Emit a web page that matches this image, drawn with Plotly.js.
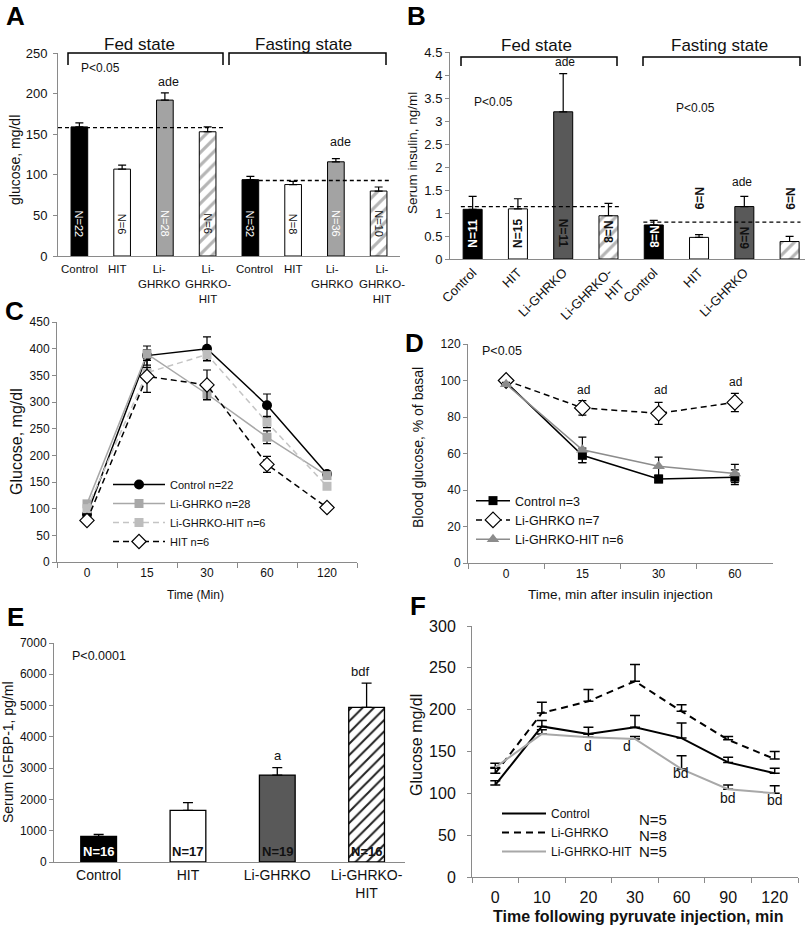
<!DOCTYPE html>
<html>
<head>
<meta charset="utf-8">
<script src="https://cdn.plot.ly/plotly-3.0.1.min.js"></script>
<style>html,body{margin:0;padding:0;background:#fff;}#chart{width:805px;height:926px;}</style>
</head>
<body>
<div id="chart"></div>
<script>
// ---------- DATA ----------
// Panel A: glucose (mg/dl)
const catsA = ['Control', 'HIT', 'Li-<br>GHRKO', 'Li-<br>GHRKO-<br>HIT'];
const glucoseFedA = [159, 107, 192, 153];
const glucoseFedErrA = [5, 5, 9, 6];
const glucoseFastA = [94, 88, 116, 80];
const glucoseFastErrA = [4, 4, 4, 5];
const refLinesA = [158, 93];
const nFedA = ['N=22', 'N=6', 'N=28', 'N=6'];
const nFastA = ['N=32', 'N=8', 'N=36', 'N=10'];

// Panel B: serum insulin (ng/ml)
const catsB = ['Control', 'HIT', 'Li-GHRKO', 'Li-GHRKO-<br>HIT'];
const insulinFedB = [1.08, 1.09, 3.2, 0.94];
const insulinFedErrB = [0.28, 0.22, 0.83, 0.27];
const insulinFastB = [0.74, 0.47, 1.14, 0.38];
const insulinFastErrB = [0.10, 0.06, 0.22, 0.11];
const refLinesB = [1.14, 0.80];
const nFedB = ['N=11', 'N=15', 'N=11', 'N=8'];
const nFastB = ['N=8', 'N=9', 'N=9', 'N=9'];

// Panel C: GTT glucose (mg/dl)
const timesC = ['0', '15', '30', '60', '120'];
const controlC = [89, 387, 400, 294, 165];
const controlErrC = [4, 18, 22, 21, 5];
const koC = [109, 390, 315, 234, 162];
const koErrC = [4, 8, 10, 12, 5];
const kohitC = [100, 355, 389, 262, 142];
const kohitErrC = [4, 10, 12, 10, 5];
const hitC = [78, 348, 332, 183, 102];
const hitErrC = [4, 30, 28, 15, 6];

// Panel D: ITT blood glucose (% of basal)
const timesD = ['0', '15', '30', '60'];
const controlD = [99, 59, 46, 47];
const controlErrD = [1, 4, 2, 4];
const koD = [100, 85, 82, 88];
const koErrD = [1, 4, 6, 5];
const kohitD = [98, 62, 53, 49];
const kohitErrD = [1, 7, 5, 5];

// Panel E: serum IGFBP-1 (pg/ml)
const catsE = ['Control', 'HIT', 'Li-GHRKO', 'Li-GHRKO-<br>HIT'];
const igfbpE = [820, 1650, 2780, 4940];
const igfbpErrE = [65, 250, 235, 780];
const nE = ['N=16', 'N=17', 'N=19', 'N=16'];

// Panel F: PTT glucose (mg/dl)
const timesF = ['0', '10', '20', '30', '60', '90', '120'];
const controlF = [110, 180, 171, 179, 166, 137, 124];
const controlErrF = [5, 7, 8, 14, 18, 6, 6];
const koF = [124, 196, 210, 234, 198, 164, 141];
const koErrF = [6, 13, 14, 20, 8, 4, 9];
const kohitF = [131, 171, 167, 165, 129, 105, 100];
const kohitErrF = [5, 5, 4, 3, 16, 5, 9];
const nF = ['N=5', 'N=8', 'N=5'];

// ---------- HELPERS ----------
const W = 805, H = 926;
const px = x => x / W;
const py = y => 1 - y / H;
const FONT = 'Liberation Sans, Arial, sans-serif';
const AX = '#8a8a8a';
const zeros = a => a.map(() => 0);
const idx = a => a.map((_, i) => i);

const barColorsA = ['black', 'white', '#a3a3a3', 'white'];
const barColorsDark = ['black', 'white', '#595959', 'white'];
const hatch = ['', '', '', '/'];

function upErr(arr, th, w) {
  return {type: 'data', symmetric: false, array: arr, arrayminus: zeros(arr), color: 'black', thickness: th || 1.2, width: w || 4};
}
function symErr(arr) {
  return {type: 'data', array: arr, color: 'black', thickness: 1.2, width: 4};
}

const traces = [];

// Panel A and B bars: one trace per genotype (fed at i, fasting at i+4)
function groupBars(fed, fedErr, fast, fastErr, colors, xa, ya, width, hatchColor) {
  fed.forEach((_, i) => {
    const m = {color: colors[i], line: {color: 'black', width: 1}};
    if (hatch[i]) m.pattern = {shape: hatch[i], fgcolor: hatchColor, bgcolor: 'white', size: 9, solidity: 0.35, fillmode: 'replace'};
    traces.push({
      type: 'bar', xaxis: xa, yaxis: ya, showlegend: false, hoverinfo: 'skip',
      x: [i, i + fed.length], y: [fed[i], fast[i]], width: width,
      marker: m, error_y: upErr([fedErr[i], fastErr[i]])
    });
  });
}
groupBars(glucoseFedA, glucoseFedErrA, glucoseFastA, glucoseFastErrA, barColorsA, 'x', 'y', 0.39, '#b5b5b5');
groupBars(insulinFedB, insulinFedErrB, insulinFastB, insulinFastErrB, barColorsDark, 'x2', 'y2', 0.42, '#b5b5b5');

// Panel C lines
traces.push({type: 'scatter', mode: 'lines+markers', xaxis: 'x3', yaxis: 'y3', legend: 'legend',
  name: 'Control n=22', x: timesC, y: controlC, error_y: symErr(controlErrC),
  line: {color: 'black', width: 1.5}, marker: {symbol: 'circle', size: 10, color: 'black'}});
traces.push({type: 'scatter', mode: 'lines+markers', xaxis: 'x3', yaxis: 'y3', legend: 'legend',
  name: 'Li-GHRKO n=28', x: timesC, y: koC, error_y: symErr(koErrC),
  line: {color: '#a8a8a8', width: 1.5}, marker: {symbol: 'square', size: 9, color: '#a8a8a8'}});
traces.push({type: 'scatter', mode: 'lines+markers', xaxis: 'x3', yaxis: 'y3', legend: 'legend',
  name: 'Li-GHRKO-HIT n=6', x: timesC, y: kohitC, error_y: symErr(kohitErrC),
  line: {color: '#c4c4c4', width: 1.5, dash: '6px,4px'}, marker: {symbol: 'square', size: 9, color: '#bdbdbd'}});
traces.push({type: 'scatter', mode: 'lines+markers', xaxis: 'x3', yaxis: 'y3', legend: 'legend',
  name: 'HIT n=6', x: timesC, y: hitC, error_y: symErr(hitErrC),
  line: {color: 'black', width: 1.5, dash: '6px,4px'}, marker: {symbol: 'diamond', size: 11, color: 'white', line: {color: 'black', width: 1.2}}});

// Panel D lines
traces.push({type: 'scatter', mode: 'lines+markers', xaxis: 'x4', yaxis: 'y4', legend: 'legend2',
  name: 'Control n=3', x: timesD, y: controlD, error_y: symErr(controlErrD),
  line: {color: 'black', width: 1.5}, marker: {symbol: 'square', size: 9, color: 'black'}});
traces.push({type: 'scatter', mode: 'lines+markers', xaxis: 'x4', yaxis: 'y4', legend: 'legend2',
  name: 'Li-GHRKO n=7', x: timesD, y: koD, error_y: symErr(koErrD),
  line: {color: 'black', width: 1.5, dash: '6px,4px'}, marker: {symbol: 'diamond', size: 12, color: 'white', line: {color: 'black', width: 1.2}}});
traces.push({type: 'scatter', mode: 'lines+markers', xaxis: 'x4', yaxis: 'y4', legend: 'legend2',
  name: 'Li-GHRKO-HIT n=6', x: timesD, y: kohitD, error_y: symErr(kohitErrD),
  line: {color: '#8c8c8c', width: 1.5}, marker: {symbol: 'triangle-up', size: 11, color: '#8c8c8c'}});

// Panel E bars: one trace per genotype
igfbpE.forEach((v, i) => {
  const m = {color: barColorsDark[i], line: {color: 'black', width: 1.3}};
  if (hatch[i]) m.pattern = {shape: hatch[i], fgcolor: '#222', bgcolor: 'white', size: 8, solidity: 0.25, fillmode: 'replace'};
  traces.push({
    type: 'bar', xaxis: 'x5', yaxis: 'y5', showlegend: false, hoverinfo: 'skip',
    x: [i], y: [v], width: 0.4, marker: m, error_y: upErr([igfbpErrE[i]], 1.3, 5)
  });
});

// Panel F lines
traces.push({type: 'scatter', mode: 'lines', xaxis: 'x6', yaxis: 'y6', legend: 'legend3',
  name: 'Control', x: timesF, y: controlF, error_y: upErr(controlErrF, 1.5, 5),
  line: {color: 'black', width: 2}});
traces.push({type: 'scatter', mode: 'lines', xaxis: 'x6', yaxis: 'y6', legend: 'legend3',
  name: 'Li-GHRKO', x: timesF, y: koF, error_y: upErr(koErrF, 1.5, 5),
  line: {color: 'black', width: 2, dash: '7px,5px'}});
traces.push({type: 'scatter', mode: 'lines', xaxis: 'x6', yaxis: 'y6', legend: 'legend3',
  name: 'Li-GHRKO-HIT', x: timesF, y: kohitF, error_y: upErr(kohitErrF, 1.5, 5),
  line: {color: '#a8a8a8', width: 2}});

// ---------- AXES ----------
function yAx(dom, range, dtick, size, anchor, standoff) {
  return {domain: dom, range: range, dtick: dtick, anchor: anchor, showline: true, linecolor: AX, linewidth: 1,
    ticks: 'outside', ticklen: 4, tickcolor: AX, showgrid: false, zeroline: false,
    ticklabelstandoff: standoff || 0,
    tickfont: {family: FONT, size: size, color: '#111'}, fixedrange: true};
}
function xNum(dom, range, anchor, ticktext, size, angle, showLabels) {
  return {domain: dom, range: range, anchor: anchor, tickmode: 'array',
    tickvals: idx(ticktext), ticktext: ticktext, showline: true, linecolor: AX, linewidth: 1,
    showticklabels: showLabels !== false,
    ticks: '', showgrid: false, zeroline: false, tickangle: angle === undefined ? 0 : angle,
    tickfont: {family: FONT, size: size, color: '#111'}, fixedrange: true};
}
function xCat(dom, cats, anchor, size, standoff) {
  return {domain: dom, type: 'category', categoryorder: 'array', categoryarray: cats,
    range: [-0.5, cats.length - 0.5], anchor: anchor, tickson: 'boundaries',
    showline: true, linecolor: AX, linewidth: 1, ticks: 'outside', ticklen: 5, tickcolor: AX,
    ticklabelstandoff: standoff || 0,
    showgrid: false, zeroline: false, tickfont: {family: FONT, size: size, color: '#111'}, fixedrange: true};
}

const layout = {
  width: W, height: H, margin: {l: 0, r: 0, t: 0, b: 0},
  paper_bgcolor: 'white', plot_bgcolor: 'rgba(0,0,0,0)',
  font: {family: FONT, color: '#111'},
  barmode: 'overlay', bargap: 0,
  xaxis: xNum([px(58), px(400)], [-0.5, 7.5], 'y', catsA.concat(catsA), 11.5, 0, false),
  yaxis: yAx([py(256), py(53)], [0, 250], 50, 13, 'x', 3),
  xaxis2: xNum([px(450), px(805)], [-0.5, 7.34], 'y2', catsB.concat(catsB), 13, -45),
  yaxis2: yAx([py(259), py(52)], [0, 4.5], 0.5, 13, 'x2'),
  xaxis3: xCat([px(57), px(357)], timesC, 'y3', 12),
  yaxis3: yAx([py(562), py(322)], [0, 450], 50, 12, 'x3'),
  xaxis4: xCat([px(468), px(773)], timesD, 'y4', 12),
  yaxis4: yAx([py(563), py(344)], [0, 120], 20, 12, 'x4'),
  xaxis5: xNum([px(54), px(405)], [-0.5, 3.43], 'y5', catsE, 14),
  yaxis5: yAx([py(862), py(643)], [0, 7000], 1000, 12, 'x5'),
  xaxis6: xCat([px(472), px(798)], timesF, 'y6', 16, 6),
  yaxis6: yAx([py(877), py(626)], [0, 300], 50, 16, 'x6', 8),
  legend: {x: px(108), y: py(470), xanchor: 'left', yanchor: 'top', bgcolor: 'rgba(0,0,0,0)',
    font: {family: FONT, size: 11, color: '#111'}, itemwidth: 52, tracegroupgap: 0},
  legend2: {x: px(471), y: py(486), xanchor: 'left', yanchor: 'top', bgcolor: 'rgba(0,0,0,0)',
    font: {family: FONT, size: 12.5, color: '#111'}, itemwidth: 34, tracegroupgap: 0},
  legend3: {x: px(497), y: py(799), xanchor: 'left', yanchor: 'top', bgcolor: 'rgba(0,0,0,0)',
    font: {family: FONT, size: 12, color: '#111'}, itemwidth: 44, tracegroupgap: 0},
  shapes: [],
  annotations: []
};

// ---------- SHAPES ----------
function bracket(x0, x1, yTop, yBot) {
  return {type: 'path', xref: 'paper', yref: 'paper',
    path: `M ${px(x0)} ${py(yBot)} L ${px(x0)} ${py(yTop)} L ${px(x1)} ${py(yTop)} L ${px(x1)} ${py(yBot)}`,
    line: {color: 'black', width: 1.5}};
}
layout.shapes.push(bracket(68, 223, 53, 65));
layout.shapes.push(bracket(229, 386, 53, 65));
layout.shapes.push(bracket(461, 617, 57, 66));
layout.shapes.push(bracket(643, 800, 57, 66));
// dashed reference lines
layout.shapes.push({type: 'line', xref: 'x', yref: 'y', x0: -0.5, x1: 3.36, y0: refLinesA[0], y1: refLinesA[0], line: {color: 'black', width: 1.3, dash: '4px,3px'}});
layout.shapes.push({type: 'line', xref: 'x', yref: 'y', x0: 3.87, x1: 7.26, y0: refLinesA[1], y1: refLinesA[1], line: {color: 'black', width: 1.3, dash: '4px,3px'}});
layout.shapes.push({type: 'line', xref: 'x2', yref: 'y2', x0: -0.26, x1: 3.27, y0: refLinesB[0], y1: refLinesB[0], line: {color: 'black', width: 1.3, dash: '4px,3px'}});
layout.shapes.push({type: 'line', xref: 'x2', yref: 'y2', x0: 3.77, x1: 7.24, y0: refLinesB[1], y1: refLinesB[1], line: {color: 'black', width: 1.3, dash: '4px,3px'}});

// ---------- ANNOTATIONS ----------
function ann(text, x, y, o) {
  o = o || {};
  layout.annotations.push({
    text: text, xref: 'paper', yref: 'paper', x: px(x), y: py(y),
    xanchor: o.xanchor || 'center', yanchor: 'middle', showarrow: false,
    textangle: o.angle || 0,
    font: {family: FONT, size: o.size || 12, color: o.color || '#111'}
  });
}
function annX(text, xref, xi, y, o) {
  o = o || {};
  layout.annotations.push({
    text: text, xref: xref, yref: 'paper', x: xi, y: py(y),
    xanchor: 'center', yanchor: o.yanchor || 'middle', showarrow: false, textangle: o.angle || 0,
    xshift: o.xshift || 0,
    font: {family: FONT, size: o.size || 11, color: o.color || '#111'}
  });
}
// panel letters
[['A', 4, 16], ['B', 405, 16], ['C', 3, 311], ['D', 403, 343], ['E', 5, 617], ['F', 408, 606]].forEach(([t, x, y]) =>
  ann('<b>' + t + '</b>', x, y, {xanchor: 'left', size: 26, color: 'black'}));

// Panel A
ann('glucose, mg/dl', 15, 160, {angle: -90, size: 14});
ann('Fed state', 139, 44, {size: 17});
ann('Fasting state', 303, 44, {size: 17});
ann('P<0.05', 100, 68, {size: 12});
ann('ade', 168, 82, {size: 12.5});
ann('ade', 340, 142, {size: 12.5});
const nColA = ['white', '#111', 'white', '#111'];
nFedA.forEach((t, i) => annX(t, 'x', i, 224, {angle: 90, size: 11, color: nColA[i]}));
nFastA.forEach((t, i) => annX(t, 'x', i + 4, 224, {angle: 90, size: 11, color: nColA[i]}));
// category labels of panel A (placed like the original, slightly off-centre)
const labShiftA = [0, -5, -6, 0, 4, 0, -3.5, 3];
catsA.concat(catsA).forEach((t, i) => annX(t, 'x', i, 261, {yanchor: 'top', size: 11.5, xshift: labShiftA[i]}));

// Panel B
ann('Serum insulin, ng/ml', 412, 153, {angle: -90, size: 13.5});
ann('Fed state', 536, 45, {size: 17});
ann('Fasting state', 719, 45, {size: 17});
ann('ade', 565, 62, {size: 12});
ann('P<0.05', 493, 102, {size: 12});
ann('P<0.05', 695, 108, {size: 12});
ann('ade', 742, 182, {size: 12});
const nFedColB = ['white', '#111', '#111', '#111'];
const nFedAngB = [-90, -90, 90, 90];
const nFedYB = [233, 233, 233, 232];
nFedB.forEach((t, i) => annX('<b>' + t + '</b>', 'x2', i, nFedYB[i], {angle: nFedAngB[i], size: 12, color: nFedColB[i]}));
const nFastColB = ['white', '#111', '#111', '#111'];
const nFastYB = [237, 198, 238, 199];
nFastB.forEach((t, i) => annX('<b>' + t + '</b>', 'x2', i + 4, nFastYB[i], {angle: 90, size: 12, color: nFastColB[i]}));

// Panel C
ann('Glucose, mg/dl', 16, 442, {angle: -90, size: 16});
ann('Time (Min)', 195, 595, {size: 12});

// Panel D
ann('Blood glucose, % of basal', 418, 448, {angle: -90, size: 14});
ann('Time, min after insulin injection', 620, 594, {size: 13.5});
ann('P<0.05', 502, 351, {size: 12.5});
ann('ad', 583, 390, {size: 12});
ann('ad', 660, 390, {size: 12});
ann('ad', 735, 382, {size: 12});

// Panel E
ann('Serum IGFBP-1, pg/ml', 8, 752, {angle: -90, size: 14});
ann('P<0.0001', 99, 656, {size: 12.5});
ann('a', 278, 755, {size: 13});
ann('bdf', 360, 671, {size: 13});
const nColE = ['white', '#111', '#111', '#111'];
nE.forEach((t, i) => annX('<b>' + t + '</b>', 'x5', i, 851, {size: 13, color: nColE[i]}));

// Panel F
ann('Glucose mg/dl', 416, 745, {angle: -90, size: 16});
ann('<b>Time following pyruvate injection, min</b>', 638, 916, {size: 16});
ann('d', 588, 746, {size: 14});
ann('d', 627, 746, {size: 14});
ann('bd', 681, 773, {size: 14});
ann('bd', 728, 798, {size: 14});
ann('bd', 775, 800, {size: 14});
const nYF = [819, 835, 851];
nF.forEach((t, i) => ann(t, 637, nYF[i], {xanchor: 'left', size: 15}));

Plotly.newPlot('chart', traces, layout, {staticPlot: true, displayModeBar: false});
</script>
</body>
</html>
